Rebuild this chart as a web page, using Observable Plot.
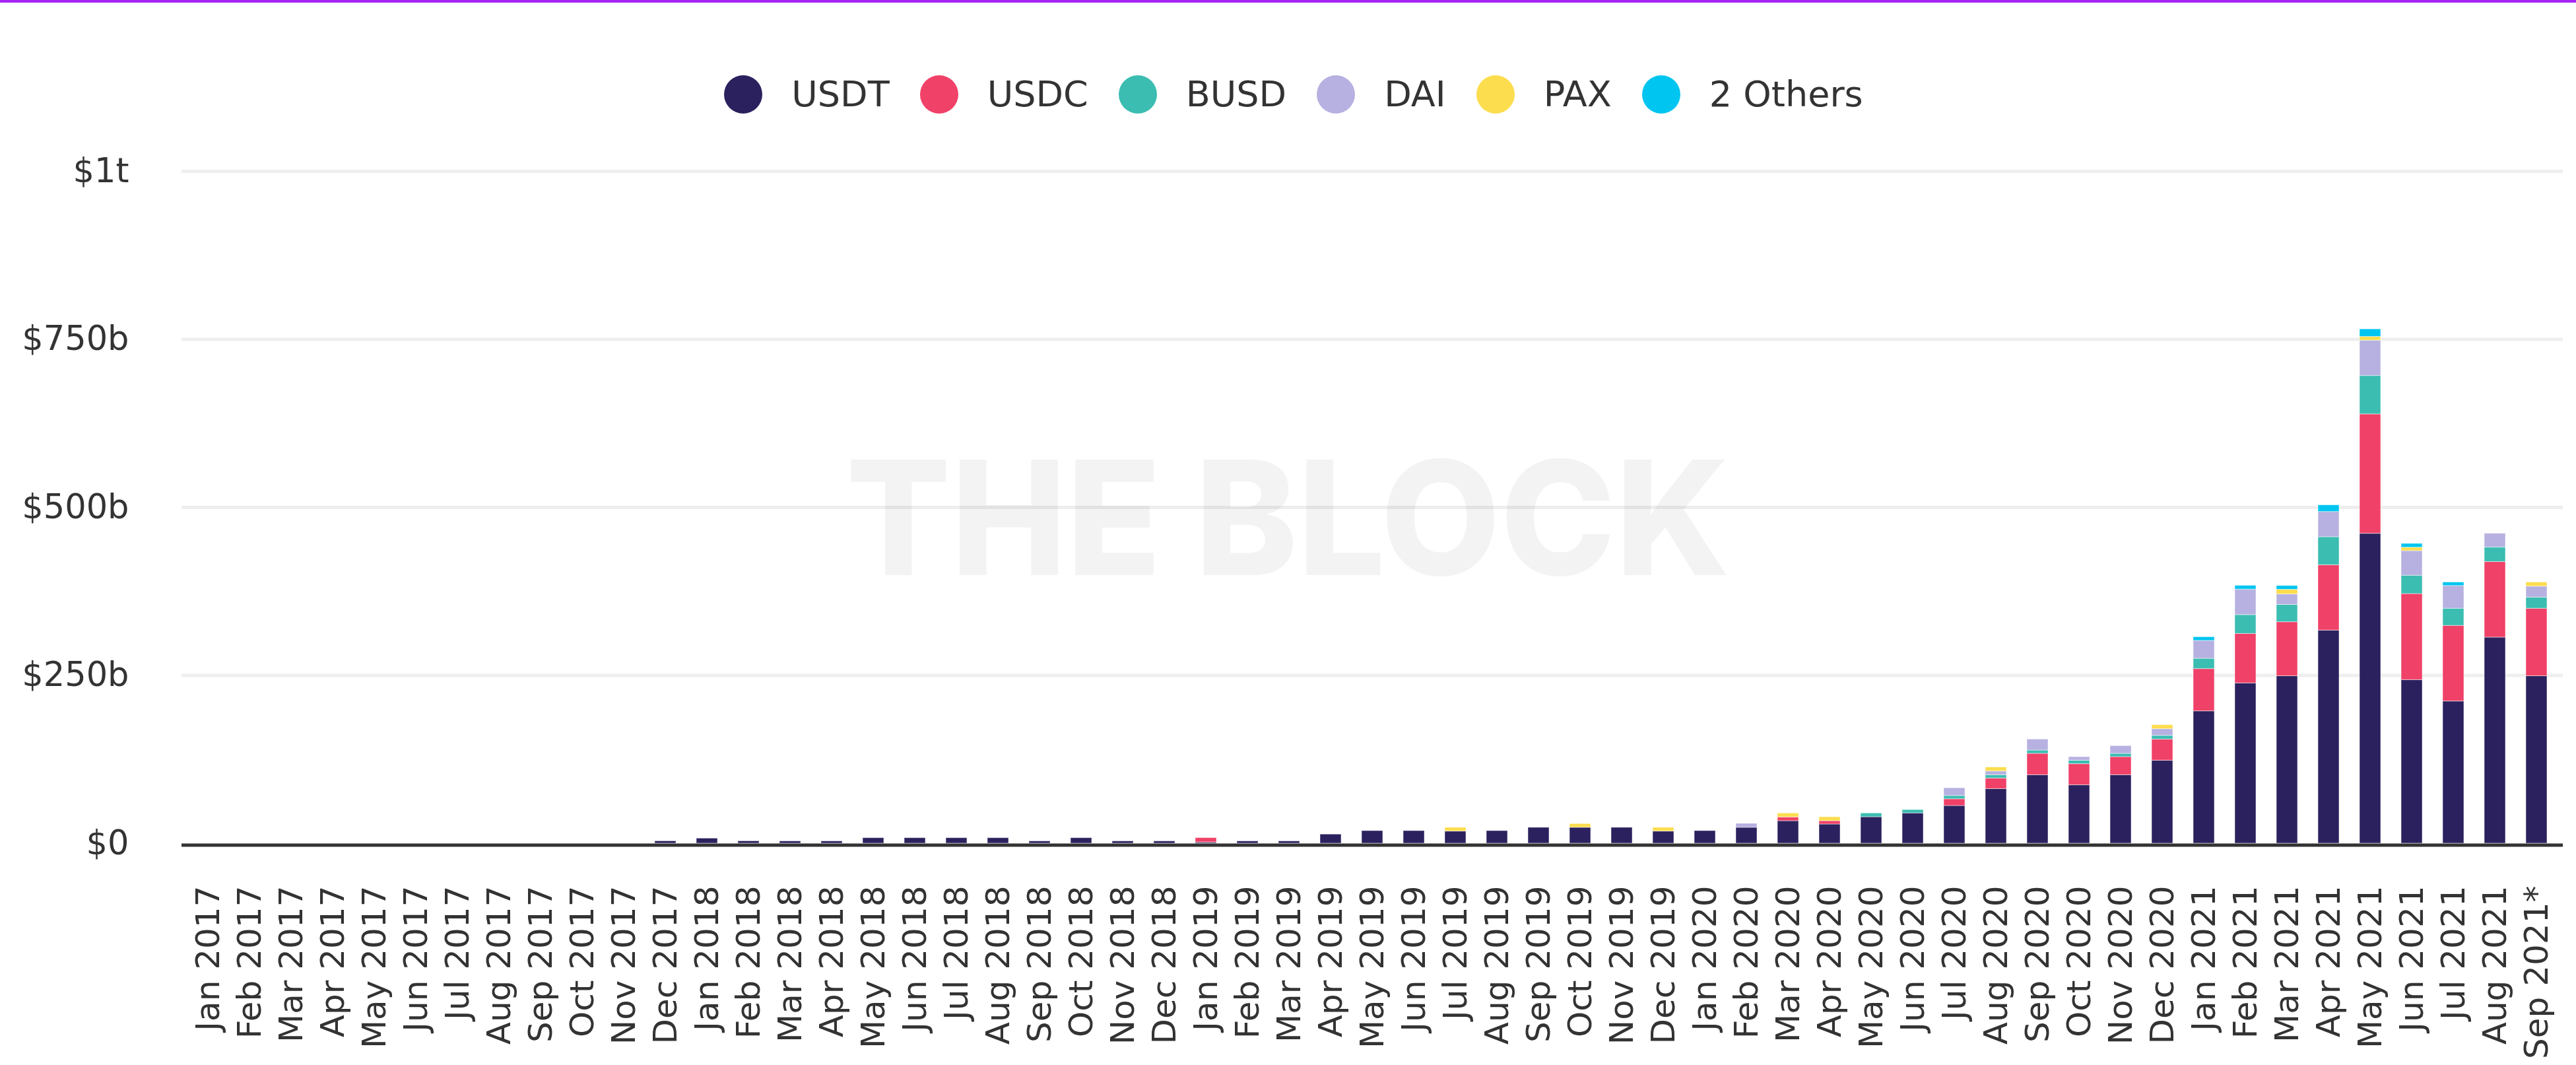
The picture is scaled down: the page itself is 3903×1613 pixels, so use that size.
<!DOCTYPE html>
<html>
<head>
<meta charset="utf-8">
<script src="https://cdn.jsdelivr.net/npm/d3@7"></script>
<script src="https://cdn.jsdelivr.net/npm/@observablehq/plot@0.6"></script>
<style>
  html, body { margin: 0; padding: 0; background: #fff; overflow: hidden; }
  body { width: 3903px; height: 1613px; font-family: "DejaVu Sans", sans-serif; color: #333; }
  #topbar { height: 4px; background: #a524f5; }
  #legendArea { position: relative; height: 196px; }
  #legend { position: absolute; top: 109px; left: 0; right: 0; height: 60px; padding-left: 17px;
            display: flex; justify-content: center; align-items: center; }
  .item { display: flex; align-items: center; margin: 0 23px; }
  .dot { width: 58px; height: 58px; border-radius: 50%; margin-right: 44px; }
  .lab { font-size: 54px; color: #333; line-height: 60px; }
  #chart svg { display: block; }
</style>
</head>
<body>
<div id="topbar"></div>
<div id="legendArea"><div id="legend"></div></div>
<div id="chart"></div>
<script>
const months = [
  "Jan 2017","Feb 2017","Mar 2017","Apr 2017","May 2017","Jun 2017","Jul 2017","Aug 2017","Sep 2017","Oct 2017","Nov 2017","Dec 2017",
  "Jan 2018","Feb 2018","Mar 2018","Apr 2018","May 2018","Jun 2018","Jul 2018","Aug 2018","Sep 2018","Oct 2018","Nov 2018","Dec 2018",
  "Jan 2019","Feb 2019","Mar 2019","Apr 2019","May 2019","Jun 2019","Jul 2019","Aug 2019","Sep 2019","Oct 2019","Nov 2019","Dec 2019",
  "Jan 2020","Feb 2020","Mar 2020","Apr 2020","May 2020","Jun 2020","Jul 2020","Aug 2020","Sep 2020","Oct 2020","Nov 2020","Dec 2020",
  "Jan 2021","Feb 2021","Mar 2021","Apr 2021","May 2021","Jun 2021","Jul 2021","Aug 2021","Sep 2021*"
];
const coins = ["USDT", "USDC", "BUSD", "DAI", "PAX", "2 Others"];
const colors = ["#2b215e", "#f04168", "#3bbdb1", "#b6b1e0", "#fcdd4e", "#00c5f0"];

// volumes in $ billions
const usdt = [
  0,0,0,0,0,0,0,0,0,0,0,3.5,
  7.5,3.5,3.3,3.3,8.1,8.1,8.1,8.1,3.3,8.1,3.3,3.3,
  1.7,3.3,3.3,13.5,18.7,18.7,18,18.7,23.6,23.6,23.6,18,
  18.7,23.6,33.4,28.5,39.3,45,56,81.2,101.8,86.8,101.8,123.4,
  196.8,238.4,249,317,461,243.3,211.5,306.5,249
];
const usdc = [
  0,0,0,0,0,0,0,0,0,0,0,0,
  0,0,0,0,0,0,0,0,0,0,0,0,
  6.5,0,0,0,0,0,0,0,0,0,0,0,
  0,0,5.6,4.9,0,0,10,15.7,31.8,31.4,26.9,31.5,
  62.9,73.6,80.4,97.2,177.6,128,112.5,112.4,100.5
];
const busd = [
  0,0,0,0,0,0,0,0,0,0,0,0,
  0,0,0,0,0,0,0,0,0,0,0,0,
  0,0,0,0,0,0,0,0,0,0,0,0,
  0,0,0,0,5.6,5,4.9,4.9,4.9,5.2,4.9,5.5,
  15.3,28,25.7,41.7,57.2,27.3,25.5,21.6,16.5
];
const dai = [
  0,0,0,0,0,0,0,0,0,0,0,0,
  0,0,0,0,0,0,0,0,0,0,0,0,
  0,0,0,0,0,0,0,0,0,0,0,0,
  0,5.9,0,0,0,0,11.5,5.6,16.4,5.3,11.5,9.9,
  26.6,38,15.6,37.5,52.5,36.6,33.8,20.6,16.4
];
const pax = [
  0,0,0,0,0,0,0,0,0,0,0,0,
  0,0,0,0,0,0,0,0,0,0,0,0,
  0,0,0,0,0,0,5.6,0,0,5.6,0,5.6,
  0,0,5.9,5.9,0,0,0,5.9,0,0,0,5.9,
  0,0,7,0,5.6,5.1,0,0,6.1
];
const others = [
  0,0,0,0,0,0,0,0,0,0,0,0,
  0,0,0,0,0,0,0,0,0,0,0,0,
  0,0,0,0,0,0,0,0,0,0,0,0,
  0,0,0,0,0,0,0,0,0,0,0,0,
  5.5,5.6,5.6,9.9,11.2,5.7,5.2,0,0
];
const yTicks = [0, 250, 500, 750, 1000];
const yTickLabels = ["$0", "$250b", "$500b", "$750b", "$1t"];

const series = [usdt, usdc, busd, dai, pax, others];
const rows = [];
months.forEach((m, i) => coins.forEach((c, j) => rows.push({month: m, coin: c, value: series[j][i]})));

// legend
const legend = document.getElementById("legend");
coins.forEach((c, j) => {
  const it = document.createElement("div");
  it.className = "item";
  const d = document.createElement("div");
  d.className = "dot";
  d.style.background = colors[j];
  const t = document.createElement("span");
  t.className = "lab";
  t.textContent = c;
  it.appendChild(d); it.appendChild(t);
  legend.appendChild(it);
});

const chart = Plot.plot({
  width: 3903,
  height: 1413,
  marginTop: 59,
  marginBottom: 336,
  marginLeft: 275,
  marginRight: 20,
  style: {fontFamily: "DejaVu Sans", color: "#333", background: "white", overflow: "visible"},
  x: {type: "band", domain: months, paddingInner: 0.5, paddingOuter: 0.21, label: null},
  y: {domain: [0, 1000], label: null},
  color: {domain: coins, range: colors},
  marks: [
    Plot.text(["THE BLOCK"], {text: d => d, frameAnchor: "middle", dx: -128, dy: 26,
      fontSize: 240, fontWeight: 800, fontFamily: "Inter", fill: "#f3f3f3"}),
    Plot.ruleY(yTicks.slice(1), {stroke: "#000", strokeOpacity: 0.065, strokeWidth: 5}),
    Plot.barY(rows, {x: "month", y: "value", fill: "coin", order: coins,
      stroke: "#fff", strokeWidth: 1, strokeOpacity: 0.5}),
    Plot.ruleY([0], {stroke: "#333", strokeWidth: 5, dy: 2.5}),
    Plot.axisY({ticks: yTicks, tickFormat: d => yTickLabels[yTicks.indexOf(d)],
      tickSize: 0, tickPadding: 80, fontSize: 51, label: null}),
    Plot.axisX({tickRotate: -90, tickSize: 0, tickPadding: 64, fontSize: 50, label: null})
  ]
});
document.getElementById("chart").appendChild(chart);

// stretch watermark to its measured width
chart.querySelectorAll("text").forEach(t => {
  if (t.textContent === "THE BLOCK") {
    t.setAttribute("textLength", "1339");
    t.setAttribute("lengthAdjust", "spacingAndGlyphs");
  }
});
</script>
</body>
</html>
